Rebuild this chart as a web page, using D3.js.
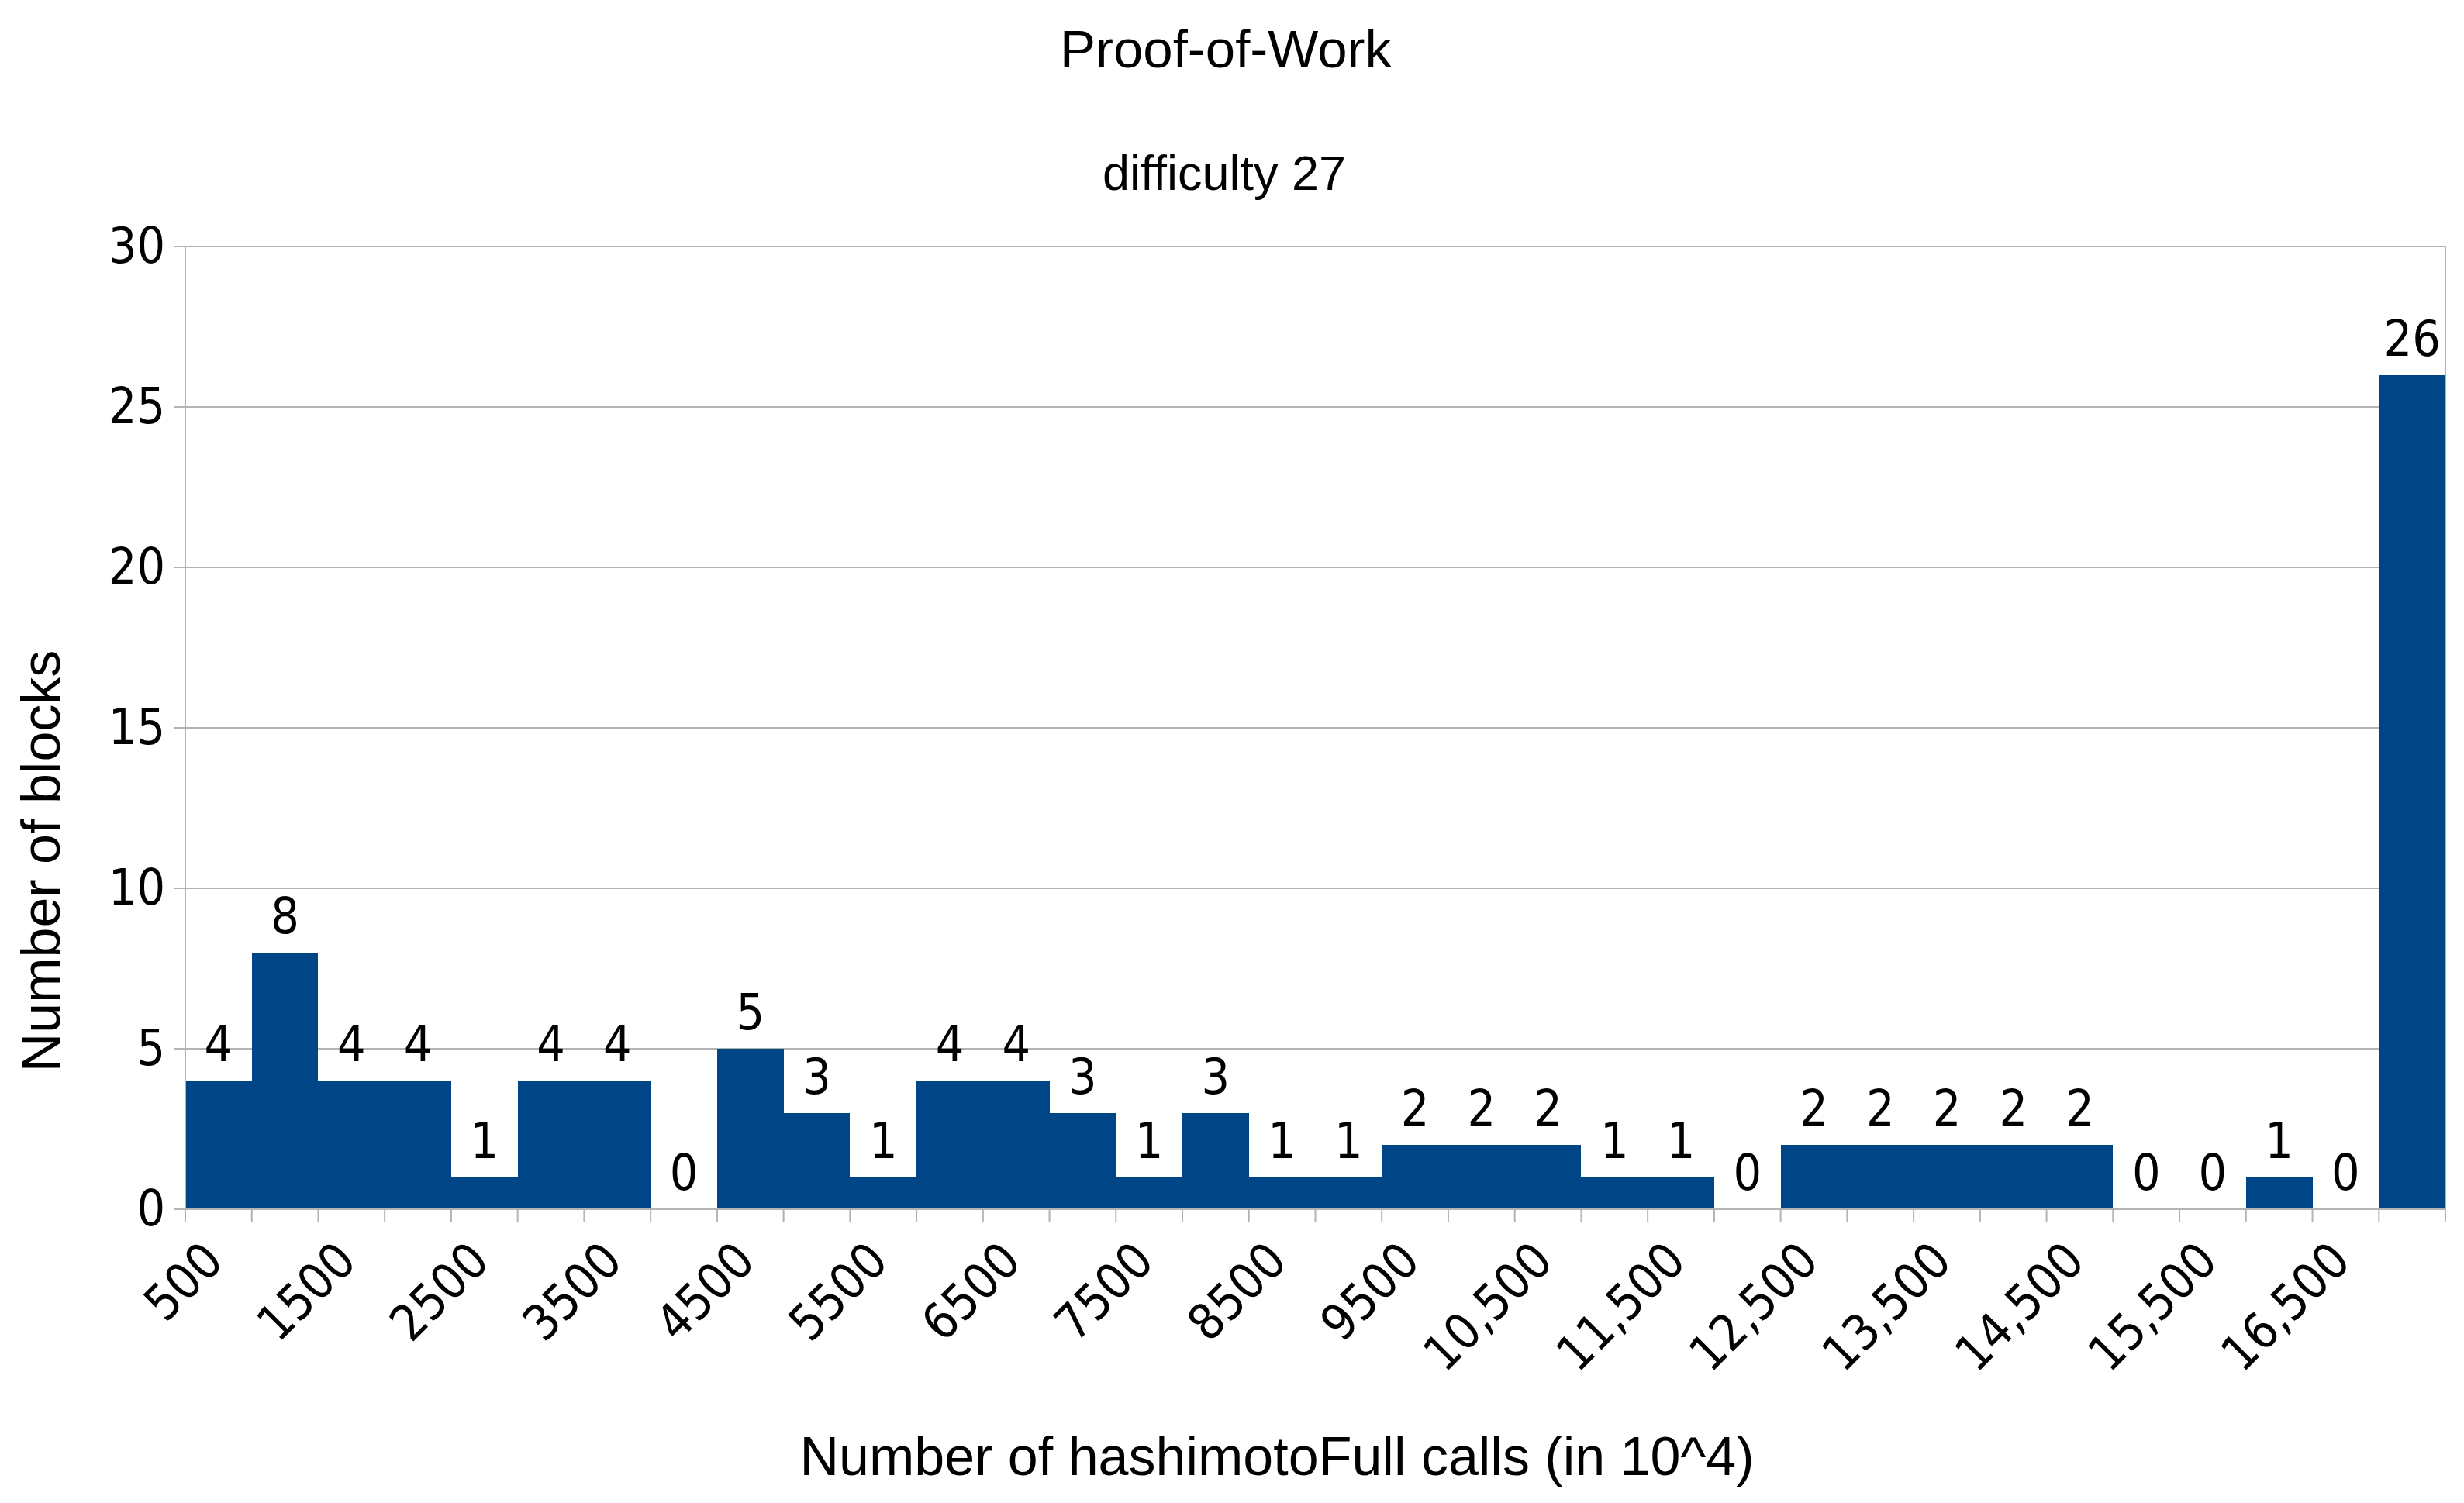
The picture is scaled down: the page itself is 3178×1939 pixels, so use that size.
<!DOCTYPE html>
<html>
<head>
<meta charset="utf-8">
<script src="https://cdn.jsdelivr.net/npm/d3@7"></script>
<style>
  html, body { margin: 0; padding: 0; background: #fff; }
  svg { display: block; }
</style>
</head>
<body>
<svg id="chart"></svg>
<script>
// bins of hashimotoFull calls (in 10^4), one bar each
const bins = ["500", "1000", "1500", "2000", "2500", "3000", "3500", "4000",
              "4500", "5000", "5500", "6000", "6500", "7000", "7500", "8000",
              "8500", "9000", "9500", "10000", "10500", "11000", "11500", "12000",
              "12500", "13000", "13500", "14000", "14500", "15000", "15500", "16000",
              "16500", "17000"];

// number of blocks per bin
const counts = [4, 8, 4, 4, 1, 4, 4, 0,
                5, 3, 1, 4, 4, 3, 1, 3,
                1, 1, 2, 2, 2, 1, 1, 0,
                2, 2, 2, 2, 2, 0, 0, 1,
                0, 26];

// labels printed under every other bin
const tickLabels = ["500", "1500", "2500", "3500", "4500", "5500", "6500", "7500",
                    "8500", "9500", "10,500", "11,500", "12,500", "13,500", "14,500",
                    "15,500", "16,500"];

const yTicks = [0, 5, 10, 15, 20, 25, 30];

const width = 3178, height = 1939;
const margin = {left: 239, right: 24, top: 318, bottom: 379};

const svg = d3.select("#chart")
    .attr("width", width)
    .attr("height", height);

svg.append("rect").attr("width", width).attr("height", height).attr("fill", "#fff");

const x = d3.scaleBand()
    .domain(bins)
    .range([margin.left, width - margin.right])
    .padding(0);

const y = d3.scaleLinear()
    .domain([0, 30])
    .range([height - margin.bottom, margin.top]);

const gridColor = "#b3b3b3";
const labelFont = "'DejaVu Sans Condensed', 'DejaVu Sans', sans-serif";
const titleFont = "'Liberation Sans', Arial, sans-serif";

//horizontal grid lines, with the little outward tick on the left
svg.append("g")
    .selectAll("line")
    .data(yTicks)
    .join("line")
    .attr("x1", margin.left - 15)
    .attr("x2", width - margin.right)
    .attr("y1", d => y(d))
    .attr("y2", d => y(d))
    .attr("stroke", gridColor)
    .attr("stroke-width", 2);

//bars, snapped to whole pixels so neighbours join without seams
svg.append("g")
    .attr("shape-rendering", "crispEdges")
    .selectAll("rect")
    .data(counts)
    .join("rect")
    .attr("x", (d, i) => Math.round(x(bins[i])))
    .attr("width", (d, i) => Math.round(x(bins[i]) + x.bandwidth()) - Math.round(x(bins[i])))
    .attr("y", d => Math.round(y(d)))
    .attr("height", d => Math.round(y(0)) - Math.round(y(d)))
    .attr("fill", "#004586");

//plot area walls (left axis line, right border, base line)
svg.append("line")
    .attr("x1", margin.left).attr("x2", margin.left)
    .attr("y1", y(30)).attr("y2", y(0))
    .attr("stroke", gridColor).attr("stroke-width", 2);
svg.append("line")
    .attr("x1", width - margin.right).attr("x2", width - margin.right)
    .attr("y1", y(30)).attr("y2", y(0))
    .attr("stroke", gridColor).attr("stroke-width", 2);
svg.append("line")
    .attr("x1", margin.left).attr("x2", width - margin.right)
    .attr("y1", y(0)).attr("y2", y(0))
    .attr("stroke", gridColor).attr("stroke-width", 2);

//x ticks sit on the bin boundaries
const boundaries = bins.map(b => x(b)).concat([x.range()[1]]);
svg.append("g")
    .selectAll("line")
    .data(boundaries)
    .join("line")
    .attr("x1", d => d).attr("x2", d => d)
    .attr("y1", y(0)).attr("y2", y(0) + 16)
    .attr("stroke", gridColor)
    .attr("stroke-width", 2);

//y tick labels
svg.append("g")
    .selectAll("text")
    .data(yTicks)
    .join("text")
    .attr("x", margin.left - 26)
    .attr("y", d => y(d) + 21)
    .attr("text-anchor", "end")
    .style("font-family", labelFont)
    .style("font-stretch", "condensed")
    .style("font-size", "64px")
    .attr("fill", "#000")
    .text(d => d);

//x tick labels, rotated, on every other bin
svg.append("g")
    .selectAll("text")
    .data(tickLabels)
    .join("text")
    .attr("transform", (d, i) => {
        const cx = x(bins[i * 2]) + x.bandwidth() / 2;
        return `translate(${cx + 9}, ${y(0) + 70}) rotate(-45)`;
    })
    .attr("text-anchor", "end")
    .style("font-family", labelFont)
    .style("font-stretch", "condensed")
    .style("font-size", "64px")
    .attr("fill", "#000")
    .text(d => d);

//value labels above bars
svg.append("g")
    .selectAll("text")
    .data(counts)
    .join("text")
    .attr("x", (d, i) => x(bins[i]) + x.bandwidth() / 2)
    .attr("y", d => y(d) - 25)
    .attr("text-anchor", "middle")
    .style("font-family", labelFont)
    .style("font-stretch", "condensed")
    .style("font-size", "64px")
    .attr("fill", "#000")
    .text(d => d);

//titles
svg.append("text")
    .attr("x", 1581).attr("y", 87)
    .attr("text-anchor", "middle")
    .style("font-family", titleFont)
    .style("font-size", "69px")
    .text("Proof-of-Work");

svg.append("text")
    .attr("x", 1579).attr("y", 245)
    .attr("text-anchor", "middle")
    .style("font-family", titleFont)
    .style("font-size", "63px")
    .text("difficulty 27");

svg.append("text")
    .attr("x", 1647).attr("y", 1903)
    .attr("text-anchor", "middle")
    .style("font-family", titleFont)
    .style("font-size", "70px")
    .text("Number of hashimotoFull calls (in 10^4)");

svg.append("text")
    .attr("transform", "translate(77, 1111) rotate(-90)")
    .attr("text-anchor", "middle")
    .style("font-family", titleFont)
    .style("font-size", "70px")
    .text("Number of blocks");
</script>
</body>
</html>
